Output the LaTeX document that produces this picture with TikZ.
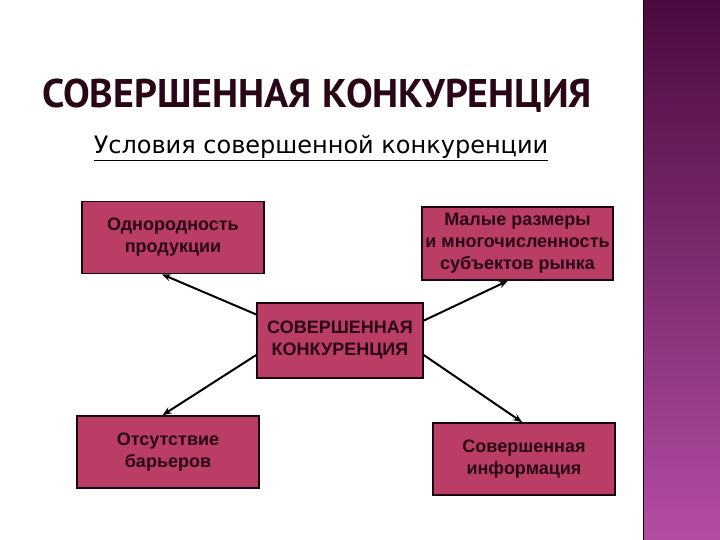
\documentclass[tikz,border=0pt]{standalone}
\usepackage{fontspec}
\setmainfont{Liberation Sans}
\newfontfamily\headfont{PT Sans}
\newfontfamily\subfont{DejaVu Sans}
\usepackage{tikz}
\usetikzlibrary{calc,arrows.meta}
\definecolor{Plum}{HTML}{4A0B3F}
\definecolor{Orchid}{HTML}{B44DA4}
\definecolor{Rose}{HTML}{B93D64}
\definecolor{Ink}{HTML}{2A0716}
\definecolor{Edge}{HTML}{1C0210}

\tikzset{
  cond/.style={draw=Edge,fill=Rose,line width=1.6pt,align=center,inner sep=0pt,
    minimum width=182pt,minimum height=72pt,text=Ink,font=\bfseries\fontsize{18}{22}\selectfont},
  link/.style={-{Stealth[length=9pt,width=7pt]},line width=2pt,black}
}

\begin{document}
\begin{tikzpicture}[x=1pt,y=1pt]
  \useasboundingbox (0,0) rectangle (720,540);
  % side bar
  \shade[top color=Plum,bottom color=Orchid] (643,0) rectangle (720,540);
  \draw[Edge,line width=1.5pt] (643.5,0) -- (643.5,540);
  % headings
  \node[font=\headfont\bfseries\fontsize{40}{46}\selectfont,text=Ink] (title) at (317,444) {СОВЕРШЕННАЯ КОНКУРЕНЦИЯ};
  \node[font=\subfont\fontsize{24}{28}\selectfont,text=black] (sub) at (321,392) {\underline{Условия совершенной конкуренции}};
  % boxes
  \node[cond] (prod) at (173,302.5) {Однородность\\продукции};
  \node[cond,minimum width=191pt,minimum height=73pt] (small) at (517.5,296.5) {Малые размеры\\и многочисленность\\субъектов рынка};
  \node[cond,minimum width=166pt,minimum height=75pt] (core) at (340,199.5) {СОВЕРШЕННАЯ\\КОНКУРЕНЦИЯ};
  \node[cond] (barr) at (168,88) {Отсутствие\\барьеров};
  \node[cond] (info) at (524,81) {Совершенная\\информация};
  % arrows
  \draw[link] ($(core.north west)!0.16!(core.south west)$) -- ($(prod.south west)!0.44!(prod.south east)$);
  \draw[link] ($(core.north east)!0.24!(core.south east)$) -- ($(small.south west)!0.45!(small.south east)$);
  \draw[link] ($(core.north west)!0.69!(core.south west)$) -- ($(barr.north west)!0.47!(barr.north east)$);
  \draw[link] ($(core.north east)!0.69!(core.south east)$) -- ($(info.north west)!0.49!(info.north east)$);
\end{tikzpicture}
\end{document}
